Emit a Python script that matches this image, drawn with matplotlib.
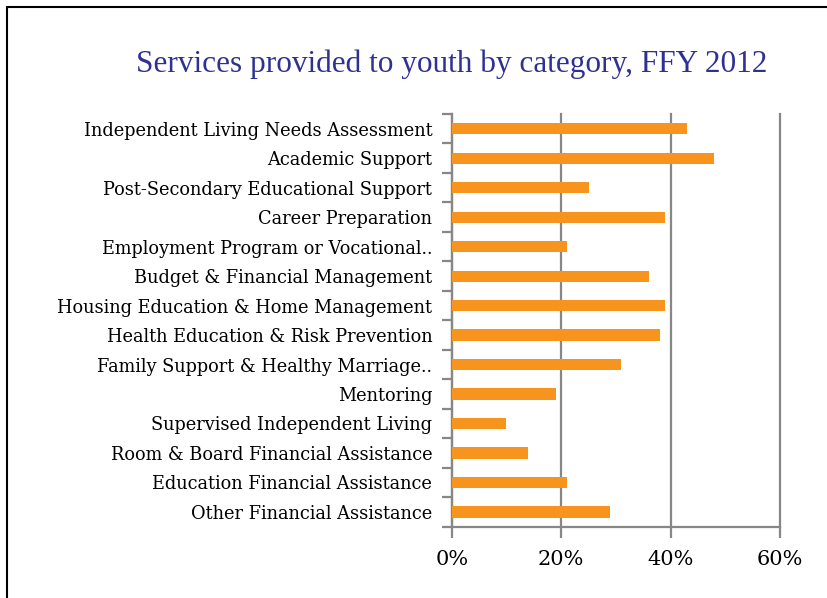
import matplotlib
matplotlib.use("Agg")
import matplotlib.pyplot as plt
import matplotlib.patches as patches

categories = [
    "Independent Living Needs Assessment",
    "Academic Support",
    "Post-Secondary Educational Support",
    "Career Preparation",
    "Employment Program or Vocational..",
    "Budget & Financial Management",
    "Housing Education & Home Management",
    "Health Education & Risk Prevention",
    "Family Support & Healthy Marriage..",
    "Mentoring",
    "Supervised Independent Living",
    "Room & Board Financial Assistance",
    "Education Financial Assistance",
    "Other Financial Assistance",
]
percent_served = [43, 48, 25, 39, 21, 36, 39, 38, 31, 19, 10, 14, 21, 29]
x_ticks = [0, 20, 40, 60]
x_tick_labels = ["0%", "20%", "40%", "60%"]

serif = ["Liberation Serif", "DejaVu Serif"]
label_font = ["DejaVu Serif"]
grey = "#878787"

fig = plt.figure(figsize=(8.27, 5.98), dpi=100)
ax = fig.add_axes([0.5462, 0.1193, 0.3970, 0.6901])

# outer frame of the slide
frame = patches.Rectangle((7 / 827, -0.1), 1.2, 1 - 7 / 598 + 0.1,
                          transform=fig.transFigure, fill=False,
                          edgecolor="black", linewidth=1.5)
fig.patches.append(frame)

ypos = list(range(len(categories)))
ax.barh(ypos, percent_served, height=0.38, color="#F7941D", zorder=3)

ax.set_xlim(0, 60)
ax.set_ylim(len(categories) - 0.5, -0.5)

# gridlines at the x ticks
ax.set_xticks(x_ticks)
ax.set_xticklabels(x_tick_labels, fontsize=15, family=label_font)
ax.grid(axis="x", color=grey, linewidth=1.6, zorder=1)
for line in ax.get_xgridlines():
    line.set_clip_on(False)

# category ticks sit between the bars, labels at the bar centres
ax.set_yticks([i - 0.5 for i in range(len(categories) + 1)])
ax.set_yticklabels([])
ax.set_yticks(ypos, minor=True)
ax.set_yticklabels(categories, minor=True, fontsize=12.8, family=label_font)
ax.tick_params(axis="y", which="major", length=7, width=1.6, color=grey,
               direction="out")
ax.tick_params(axis="y", which="minor", length=0, pad=14)
ax.tick_params(axis="x", length=8, width=1.6, color=grey, direction="out",
               pad=9)

for side in ["top", "right"]:
    ax.spines[side].set_visible(False)
for side in ["left", "bottom"]:
    ax.spines[side].set_color(grey)
    ax.spines[side].set_linewidth(1.6)

fig.text(0.546, 1 - 64 / 598, "Services provided to youth by category, FFY 2012",
         ha="center", va="center", fontsize=22.5, color="#2E3192", family=serif)

fig.savefig("out.png", dpi=100)
